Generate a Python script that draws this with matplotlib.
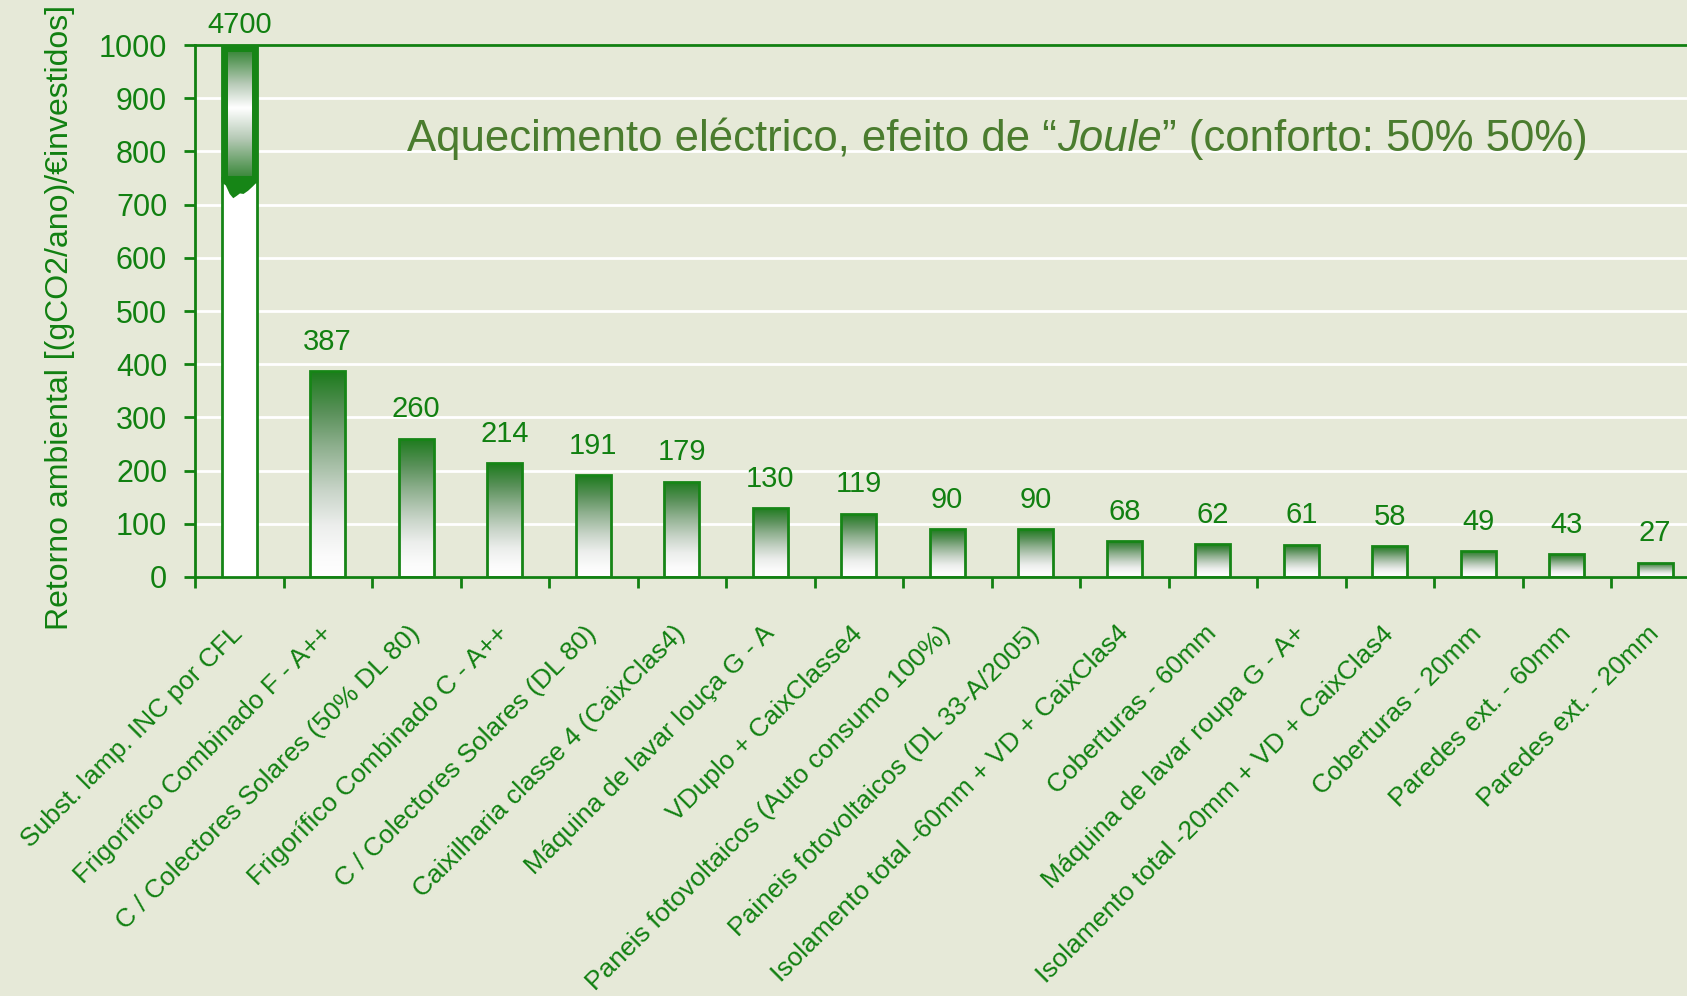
import matplotlib
matplotlib.use("Agg")
import matplotlib.pyplot as plt
import numpy as np
from matplotlib.colors import LinearSegmentedColormap
from matplotlib.patches import Polygon, Rectangle

categories = [
    "Subst. lamp. INC por CFL",
    "Frigorífico Combinado F - A++",
    "C / Colectores Solares (50% DL 80)",
    "Frigorífico Combinado C - A++",
    "C / Colectores Solares (DL 80)",
    "Caixilharia classe 4 (CaixClas4)",
    "Máquina de lavar louça G - A",
    "VDuplo + CaixClasse4",
    "Paneis fotovoltaicos (Auto consumo 100%)",
    "Paineis fotovoltaicos (DL 33-A/2005)",
    "Isolamento total -60mm + VD + CaixClas4",
    "Coberturas - 60mm",
    "Máquina de lavar roupa G - A+",
    "Isolamento total -20mm + VD + CaixClas4",
    "Coberturas - 20mm",
    "Paredes ext. - 60mm",
    "Paredes ext. - 20mm",
]
values = [4700, 387, 260, 214, 191, 179, 130, 119, 90, 90, 68, 62, 61, 58, 49, 43, 27]
y_max = 1000
y_ticks = list(range(0, 1001, 100))

title_parts = ["Aquecimento eléctrico, efeito de “", "Joule", "” (conforto: 50% 50%)"]
ylabel = "Retorno ambiental [(gCO2/ano)/€investidos]"

BG = "#e6e9d8"
GREEN = "#118011"
EDGE = "#168516"
TITLE_C = "#4a7c2e"

# no narrow face installed, so Liberation Sans at reduced sizes
plt.rcParams["font.family"] = ["Liberation Sans", "DejaVu Sans"]

W, H = 1687, 996
fig = plt.figure(figsize=(W / 100, H / 100), dpi=100, facecolor=BG)
ax = fig.add_axes([195 / W, 1 - 577 / H, 17 * 88.5 / W, 532 / H])
ax.set_facecolor(BG)

x = np.arange(len(values))
heights = np.minimum(values, y_max)
faces = ["white" if v > y_max else "none" for v in values]
bars = ax.bar(x, heights, width=0.4, color=faces, edgecolor=EDGE, linewidth=2, zorder=3)

bar_cmap = LinearSegmentedColormap.from_list(
    "bar", [(0, "#ffffff"), (0.1, "#fbfbfb"), (0.25, "#eceeec"), (0.42, "#c8d4c8"),
            (0.63, "#8fb08f"), (0.8, "#5a915a"), (1.0, "#1c7b1c")])
top_cmap = LinearSegmentedColormap.from_list(
    "top", [(0, "#3e8a3e"), (0.3, "#b5c9b5"), (0.55, "#ffffff"), (0.75, "#b5c9b5"), (1.0, "#3e8a3e")])
grad = np.linspace(0, 1, 256).reshape(-1, 1)

for bar, v in zip(bars, values):
    x0, w, h = bar.get_x(), bar.get_width(), bar.get_height()
    if v > y_max:
        # broken bar: green framed cap with a torn lower edge
        lo = 0.742 * h
        ax.add_patch(Rectangle((x0, lo), w, h - lo, facecolor=EDGE, edgecolor=EDGE, lw=1, zorder=4))
        im = ax.imshow(grad, cmap=top_cmap, origin="lower", aspect="auto",
                       extent=(x0 + 0.17 * w, x0 + 0.83 * w, lo + 0.012 * h, h - 0.014 * h), zorder=5)
        fx = np.array([0, 0.12, 0.23, 0.33, 0.42, 0.52, 0.62, 0.75, 0.88, 1.0])
        fy = np.array([0, 0.006, 0.022, 0.03, 0.026, 0.021, 0.022, 0.016, 0.008, 0])
        pts = list(zip(x0 + fx * w, lo - fy * h)) + [(x0 + w, lo + 0.01 * h), (x0, lo + 0.01 * h)]
        ax.add_patch(Polygon(pts, closed=True, facecolor=EDGE, edgecolor="none", zorder=4))
        ax.annotate(f"{v}", (bar.get_x() + w / 2, h), xytext=(0, 4), textcoords="offset points",
                    ha="center", va="bottom", fontsize=21, color=GREEN, annotation_clip=False)
    else:
        im = ax.imshow(grad, cmap=bar_cmap, origin="lower", aspect="auto",
                       extent=(x0, x0 + w, 0, h), zorder=2)
        im.set_clip_path(bar)
        ax.annotate(f"{v}", (bar.get_x() + w / 2, h), xytext=(0, 11), textcoords="offset points",
                    ha="center", va="bottom", fontsize=21, color=GREEN)

ax.set_xlim(-0.5, len(values) - 0.5)
ax.set_ylim(0, y_max)

ax.set_yticks(y_ticks)
ax.yaxis.grid(True, color="white", linewidth=2)
ax.set_axisbelow(True)
ax.tick_params(axis="y", direction="out", length=8, width=2, color=GREEN, labelcolor=GREEN,
               labelsize=22, pad=12)

ax.set_xticks(x, categories, rotation=45, ha="right", va="center", rotation_mode="anchor")
ax.set_xticks(np.arange(len(values)) - 0.5, minor=True)
ax.tick_params(axis="x", which="major", length=0, labelcolor=GREEN, labelsize=19, pad=38)
ax.tick_params(axis="x", which="minor", direction="out", length=8, width=2, color=GREEN)

for side in ["left", "bottom", "top"]:
    ax.spines[side].set_color(GREEN)
    ax.spines[side].set_linewidth(2)
ax.spines["right"].set_visible(False)

fig.text(60 / W, 1 - 318 / H, ylabel, rotation=90, ha="center", va="center",
         fontsize=23, color=GREEN)

renderer = fig.canvas.get_renderer()
xpos = 407
for i, part in enumerate(title_parts):
    t = fig.text(xpos / W, 1 - 151 / H, part, fontsize=31.5, color=TITLE_C, ha="left",
                 va="baseline", style="italic" if i == 1 else "normal")
    xpos = t.get_window_extent(renderer).x1

fig.savefig("out.png", dpi=100, facecolor=BG)
